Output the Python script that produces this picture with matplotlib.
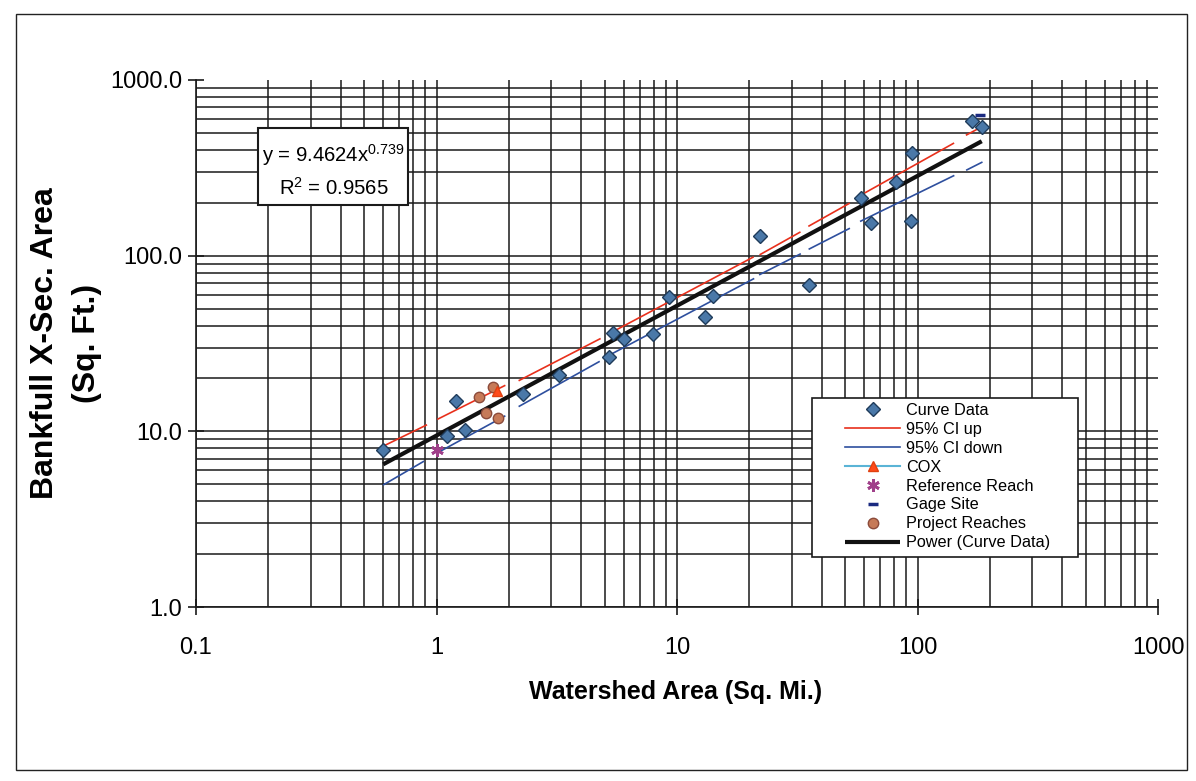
import numpy as np
import matplotlib
matplotlib.use("Agg")
import matplotlib.pyplot as plt
from matplotlib.patches import Rectangle
from matplotlib.ticker import FixedLocator, FixedFormatter, NullFormatter

plt.rcParams['font.family'] = ['Liberation Sans', 'DejaVu Sans']
plt.rcParams['mathtext.fontset'] = 'custom'
plt.rcParams['mathtext.rm'] = 'Liberation Sans'
plt.rcParams['mathtext.it'] = 'Liberation Sans'
plt.rcParams['mathtext.bf'] = 'Liberation Sans:bold'

nan = np.nan

# ---------------- data ----------------
curve_x = [0.60, 1.107, 1.21, 1.31, 2.30, 3.24, 5.21, 5.42, 6.0, 7.94, 9.25,
           13.1, 14.1, 22.2, 35.4, 58.4, 63.9, 81.5, 95.1, 94.3, 169, 185]
curve_y = [7.84, 9.38, 14.9, 10.2, 16.4, 20.9, 26.4, 36.2, 33.7, 35.7, 58.1,
           44.7, 58.9, 128.6, 68.1, 211.9, 152.9, 264, 383.4, 157.1, 586, 537]

ci_up_x = [0.600, 0.907, nan, 1.014, 1.92, nan, 2.21, 4.78, nan, 5.53, 20.7, nan,
           22.2, 32.4, nan, 35.4, 51.9, nan, 60.7, 141, nan, 160, 178.7]
ci_up_y = [8.23, 10.85, nan, 11.75, 18.2, nan, 19.5, 33.6, nan, 37.5, 98.0, nan,
           101.6, 135.8, nan, 147.6, 198, nan, 228.5, 435.6, nan, 487, 528]

ci_dn_x = [0.603, 0.882, nan, 1.017, 1.92, nan, 2.21, 4.74, nan, 5.38, 20.8, nan,
           22.1, 32.5, nan, 35.5, 52.0, nan, 58.1, 141.3, nan, 160.4, 185]
ci_dn_y = [4.97, 6.73, nan, 7.59, 12.2, nan, 13.9, 24.9, nan, 27.7, 73.8, nan,
           78.1, 102.1, nan, 109.2, 142.6, nan, 157.3, 285, nan, 307.8, 339.7]

cox_x = [1.78]
cox_y = [17.0]

ref_x = [1.0]
ref_y = [7.8]

gage_x = [182]
gage_y = [629]

proj_x = [1.50, 1.71, 1.60, 1.80]
proj_y = [15.7, 17.8, 12.7, 11.9]

# power trendline coefficients (from the chart's equation)
pow_a = 9.4624
pow_b = 0.739
r2 = 0.9565

x_major = [0.1, 1, 10, 100, 1000]
x_labels = ["0.1", "1", "10", "100", "1000"]
y_major = [1, 10, 100, 1000]
y_labels = ["1.0", "10.0", "100.0", "1000.0"]

# ---------------- figure ----------------
W, H = 1196, 781
fig = plt.figure(figsize=(W / 100, H / 100), dpi=100)
fig.patch.set_facecolor('white')

ax_l, ax_r, ax_t, ax_b = 196, 1158, 80, 607
AW, AH = ax_r - ax_l, ax_b - ax_t
ax = fig.add_axes([ax_l / W, 1 - ax_b / H, AW / W, AH / H])
ax.set_xscale('log')
ax.set_yscale('log')
ax.set_xlim(0.1, 1000)
ax.set_ylim(1, 1000)

def axx(px):
    return (px - ax_l) / AW

def axy(py):
    return (ax_b - py) / AH

x_minor = [m * 10.0 ** k for k in range(-1, 3) for m in range(2, 10)]
y_minor = [m * 10.0 ** k for k in range(0, 3) for m in range(2, 10)]
ax.xaxis.set_major_locator(FixedLocator(x_major))
ax.xaxis.set_major_formatter(FixedFormatter(x_labels))
ax.xaxis.set_minor_locator(FixedLocator(x_minor))
ax.xaxis.set_minor_formatter(NullFormatter())
ax.yaxis.set_major_locator(FixedLocator(y_major))
ax.yaxis.set_major_formatter(FixedFormatter(y_labels))
ax.yaxis.set_minor_locator(FixedLocator(y_minor))
ax.yaxis.set_minor_formatter(NullFormatter())

ax.grid(True, which='both', color='#1a1a1a', linewidth=1.1)
ax.set_axisbelow(True)
for s in ['top', 'right']:
    ax.spines[s].set_visible(False)
for s in ['left', 'bottom']:
    ax.spines[s].set_linewidth(1.2)
    ax.spines[s].set_color('#1a1a1a')

ax.tick_params(which='major', direction='inout', length=12, width=1.2, color='#1a1a1a',
               labelsize=17)
ax.tick_params(axis='x', which='major', pad=15.5)
ax.tick_params(axis='y', which='major', pad=4)
ax.tick_params(which='minor', length=0)

# ---------------- series ----------------
h_up, = ax.plot(ci_up_x, ci_up_y, color='#e8301c', lw=1.2, label='95% CI up', zorder=3)
h_dn, = ax.plot(ci_dn_x, ci_dn_y, color='#2e4f9e', lw=1.2, label='95% CI down', zorder=3)

tx = np.logspace(np.log10(min(curve_x)), np.log10(max(curve_x)), 50)
h_pow, = ax.plot(tx, pow_a * tx ** pow_b, color='#111111', lw=3.0,
                 label='Power (Curve Data)', zorder=4, solid_capstyle='butt')

h_curve, = ax.plot(curve_x, curve_y, linestyle='none', marker='D', markersize=7.2,
                   markerfacecolor='#4a78a8', markeredgecolor='#1f3b5a',
                   markeredgewidth=1.0, label='Curve Data', zorder=5)
h_proj, = ax.plot(proj_x, proj_y, linestyle='none', marker='o', markersize=7.5,
                  markerfacecolor='#c67a58', markeredgecolor='#8b4b3b',
                  markeredgewidth=1.0, label='Project Reaches', zorder=5)
h_cox, = ax.plot(cox_x, cox_y, color='#5ab4d6', lw=1.5, marker='^', markersize=7,
                 markerfacecolor='#ff4a1a', markeredgecolor='#e04010',
                 label='COX', zorder=6)
h_ref, = ax.plot(ref_x, ref_y, linestyle='none', marker=(6, 2, 0), markersize=9,
                 markeredgecolor='#a0408a', markeredgewidth=2.0,
                 label='Reference Reach', zorder=6)
h_gage, = ax.plot(gage_x, gage_y, linestyle='none', marker='_', markersize=7,
                  markeredgecolor='#1a2a80', markeredgewidth=2.5,
                  label='Gage Site', zorder=6)

# ---------------- equation box ----------------
bx0, by0, bx1, by1 = 258, 128, 408, 205
ax.add_patch(Rectangle((axx(bx0), axy(by1)), (bx1 - bx0) / AW, (by1 - by0) / AH,
                       transform=ax.transAxes, facecolor='white', edgecolor='#1a1a1a',
                       linewidth=1.5, zorder=7))
cx = axx(333.5)
ax.text(cx, axy(161.7), r'y = %.4fx$^{%s}$' % (pow_a, ('%.3f' % pow_b)),
        transform=ax.transAxes, ha='center', va='baseline', fontsize=14.6, zorder=8)
ax.text(cx, axy(195), r'R$^{2}$ = %.4f' % r2,
        transform=ax.transAxes, ha='center', va='baseline', fontsize=14.6, zorder=8)

# ---------------- legend ----------------
lx0, ly0, lx1, ly1 = 812, 398, 1078, 557
ax.add_patch(Rectangle((axx(lx0), axy(ly1)), (lx1 - lx0) / AW, (ly1 - ly0) / AH,
                       transform=ax.transAxes, facecolor='white', edgecolor='#1a1a1a',
                       linewidth=1.2, zorder=8))
handles = [h_curve, h_up, h_dn, h_cox, h_ref, h_gage, h_proj, h_pow]
leg = ax.legend(handles=handles, labels=[h.get_label() for h in handles],
                loc='upper left', bbox_to_anchor=(axx(845), axy(403)),
                borderaxespad=0, borderpad=0, frameon=False, fontsize=11.7,
                handlelength=3.4, handletextpad=0.38, labelspacing=0.24, numpoints=1)
leg.set_zorder(9)

# ---------------- axis labels ----------------
fig.text(66 / W, 1 - 343 / H, 'Bankfull X-Sec. Area\n(Sq. Ft.)', rotation=90,
         ha='center', va='center', fontsize=23, fontweight='bold', linespacing=1.55,
         multialignment='center')
fig.text(676 / W, 1 - 692 / H, 'Watershed Area (Sq. Mi.)', ha='center', va='center',
         fontsize=18, fontweight='bold')

# outer frame
fig.add_artist(Rectangle((16 / W, 1 - 770 / H), (1187 - 16) / W, (770 - 14) / H,
                         transform=fig.transFigure, fill=False, edgecolor='#222222',
                         linewidth=1.0))

# hide the gridlines sitting on the outer limits (1000)
fig.canvas.draw()
for t in ax.xaxis.get_major_ticks():
    if t.get_loc() is not None and t.get_loc() >= 1000:
        t.gridline.set_visible(False)
for t in ax.yaxis.get_major_ticks():
    if t.get_loc() is not None and t.get_loc() >= 1000:
        t.gridline.set_visible(False)

fig.savefig('out.png', dpi=100, facecolor='white')
